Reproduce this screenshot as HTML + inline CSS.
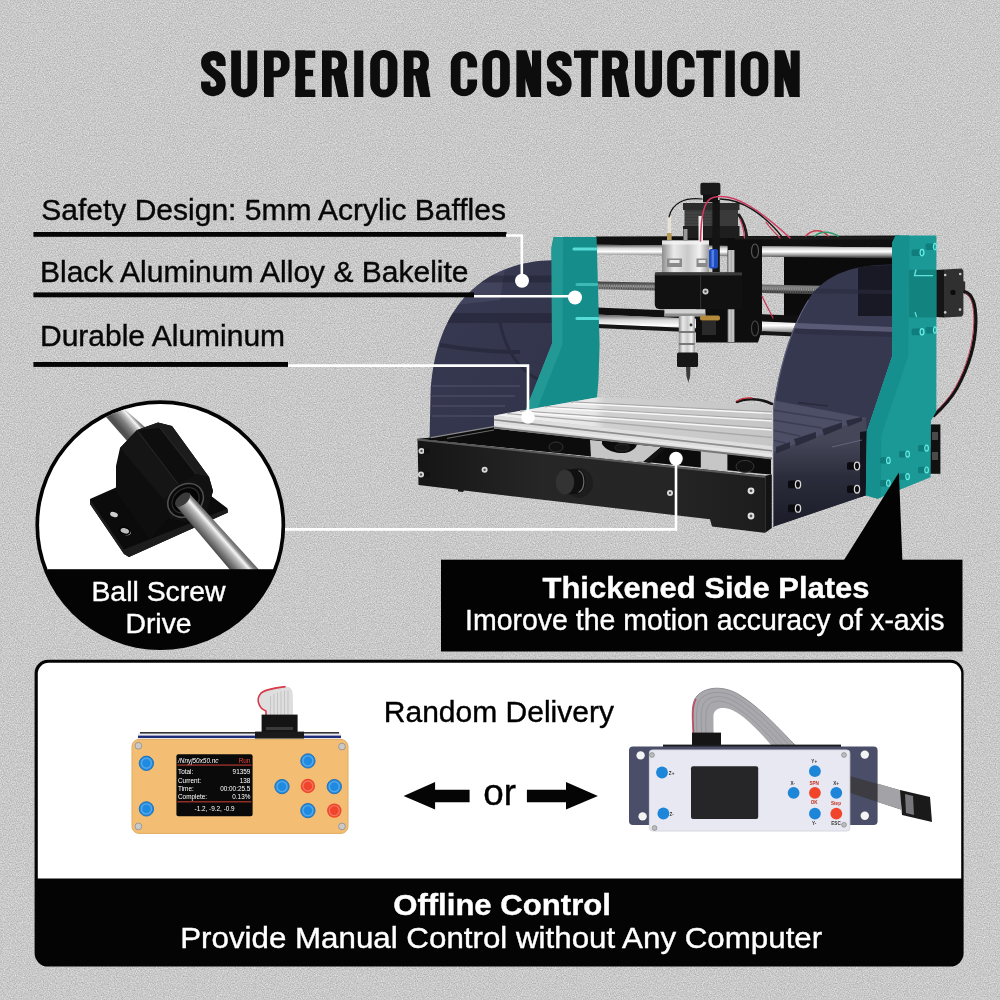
<!DOCTYPE html>
<html><head><meta charset="utf-8"><title>Superior Construction</title>
<style>
html,body{margin:0;padding:0;background:#c8c8c8;}
body{width:1000px;height:1000px;overflow:hidden;font-family:"Liberation Sans",sans-serif;}
svg{display:block;position:absolute;left:0;top:0}
text{font-family:"Liberation Sans",sans-serif;}
</style></head><body>
<svg width="1000" height="1000" viewBox="0 0 1000 1000" style="opacity:0.999">
<defs>
<filter id="noise" x="0" y="0" width="100%" height="100%" color-interpolation-filters="sRGB">
<feTurbulence type="fractalNoise" baseFrequency="0.85" numOctaves="2" seed="7" result="n"/>
<feColorMatrix type="matrix" values="0.3 0 0 0 0.636  0.3 0 0 0 0.636  0.3 0 0 0 0.636  0 0 0 0 1"/>
</filter>
</defs>
<rect width="1000" height="1000" fill="#c8c8c8"/>
<rect width="1000" height="1000" filter="url(#noise)"/>
<g id="title" fill="#0d0d0d">
<path d="M221.0,66.0 V61.9 C221.0,53.4 205.7,53.4 205.7,62.4 C205.7,72.5 221.0,73.0 221.0,83.8 C221.0,93.8 205.7,93.8 205.7,85.3 V81.5" fill="none" stroke="#0d0d0d" stroke-width="9.3"/>
<path d="M231.2,50.5 V84.4 A13.0,13.0 0 0 0 257.2,84.4 V50.5 H247.5 V85.9 A3.3,3.3 0 0 1 240.9,85.9 V50.5 Z"/>
<path d="M264.0,50.5 H278.6 A11.0,11.0 0 0 1 289.6,61.5 V66.2 A11.0,11.0 0 0 1 278.6,77.2 H273.7 V97.0 H264.0 Z M273.7,57.5 V70.8 H276.3 A4.6,4.6 0 0 0 280.9,66.2 V62.1 A4.6,4.6 0 0 0 276.3,57.5 Z" fill-rule="evenodd"/>
<rect x="295.5" y="50.5" width="9.7" height="46.5"/>
<rect x="295.5" y="50.5" width="19.8" height="7.4"/>
<rect x="295.5" y="69.8" width="17.6" height="6.4"/>
<rect x="295.5" y="89.6" width="19.8" height="7.4"/>
<path d="M322.0,50.5 H336.0 A11.0,11.0 0 0 1 347.0,61.5 V64.5 A11.0,11.0 0 0 1 336.0,75.5 H331.7 V97.0 H322.0 Z M331.7,57.5 V69.1 H333.7 A4.6,4.6 0 0 0 338.3,64.5 V62.1 A4.6,4.6 0 0 0 333.7,57.5 Z" fill-rule="evenodd"/>
<polygon points="332.7,72.5 344.0,69.5 348.6,97.0 338.3,97.0"/>
<rect x="354.2" y="50.5" width="9.1" height="46.5"/>
<path d="M370.2,63.6 A13.6,13.6 0 0 1 397.4,63.6 V83.8 A13.6,13.6 0 0 1 370.2,83.8 Z M379.9,61.7 V85.7 A3.9,3.9 0 0 0 387.7,85.7 V61.7 A3.9,3.9 0 0 0 379.9,61.7 Z" fill-rule="evenodd"/>
<path d="M403.8,50.5 H417.9 A11.0,11.0 0 0 1 428.9,61.5 V64.5 A11.0,11.0 0 0 1 417.9,75.5 H413.5 V97.0 H403.8 Z M413.5,57.5 V69.1 H415.6 A4.6,4.6 0 0 0 420.2,64.5 V62.1 A4.6,4.6 0 0 0 415.6,57.5 Z" fill-rule="evenodd"/>
<polygon points="414.5,72.5 425.9,69.5 430.5,97.0 420.2,97.0"/>
<path d="M450.8,63.2 A13.2,13.2 0 0 1 477.1,63.2 V67.5 H467.4 V61.2 A3.5,3.5 0 0 0 460.5,61.2 V86.2 A3.5,3.5 0 0 0 467.4,86.2 V79.5 H477.1 V84.2 A13.2,13.2 0 0 1 450.8,84.2 Z"/>
<path d="M482.4,63.7 A13.7,13.7 0 0 1 509.8,63.7 V83.7 A13.7,13.7 0 0 1 482.4,83.7 Z M492.1,61.8 V85.6 A4.0,4.0 0 0 0 500.1,85.6 V61.8 A4.0,4.0 0 0 0 492.1,61.8 Z" fill-rule="evenodd"/>
<rect x="516.4" y="50.5" width="9.1" height="46.5"/>
<rect x="532.0" y="50.5" width="9.1" height="46.5"/>
<polygon points="516.4,50.5 526.6,50.5 541.1,97.0 530.9,97.0"/>
<path d="M567.0,66.0 V61.9 C567.0,53.4 551.5,53.4 551.5,62.4 C551.5,72.5 567.0,73.0 567.0,83.8 C567.0,93.8 551.5,93.8 551.5,85.3 V81.5" fill="none" stroke="#0d0d0d" stroke-width="9.3"/>
<rect x="574.0" y="50.5" width="24.2" height="7.4"/>
<rect x="581.2" y="50.5" width="9.7" height="46.5"/>
<path d="M602.2,50.5 H617.0 A11.0,11.0 0 0 1 628.0,61.5 V64.5 A11.0,11.0 0 0 1 617.0,75.5 H611.9 V97.0 H602.2 Z M611.9,57.5 V69.1 H614.7 A4.6,4.6 0 0 0 619.3,64.5 V62.1 A4.6,4.6 0 0 0 614.7,57.5 Z" fill-rule="evenodd"/>
<polygon points="612.9,72.5 625.0,69.5 629.6,97.0 619.3,97.0"/>
<path d="M635.0,50.5 V83.9 A13.5,13.5 0 0 0 662.0,83.9 V50.5 H652.3 V85.4 A3.8,3.8 0 0 1 644.7,85.4 V50.5 Z"/>
<path d="M667.2,63.7 A13.7,13.7 0 0 1 694.6,63.7 V67.5 H684.9 V61.8 A4.0,4.0 0 0 0 676.9,61.8 V85.6 A4.0,4.0 0 0 0 684.9,85.6 V79.5 H694.6 V83.7 A13.7,13.7 0 0 1 667.2,83.7 Z"/>
<rect x="696.2" y="50.5" width="24.8" height="7.4"/>
<rect x="703.8" y="50.5" width="9.7" height="46.5"/>
<rect x="725.5" y="50.5" width="9.3" height="46.5"/>
<path d="M740.8,63.8 A13.8,13.8 0 0 1 768.3,63.8 V83.7 A13.8,13.8 0 0 1 740.8,83.7 Z M750.5,61.8 V85.6 A4.1,4.1 0 0 0 758.6,85.6 V61.8 A4.1,4.1 0 0 0 750.5,61.8 Z" fill-rule="evenodd"/>
<rect x="774.6" y="50.5" width="9.1" height="46.5"/>
<rect x="790.6" y="50.5" width="9.1" height="46.5"/>
<polygon points="774.6,50.5 784.8,50.5 799.7,97.0 789.5,97.0"/>
</g>
<g id="machine">
<defs>
<linearGradient id="rod" x1="0" y1="0" x2="0" y2="1">
<stop offset="0" stop-color="#555"/><stop offset="0.25" stop-color="#d8d8d8"/><stop offset="0.5" stop-color="#fff"/><stop offset="0.78" stop-color="#8a8a8a"/><stop offset="1" stop-color="#222"/>
</linearGradient>
<linearGradient id="screw" x1="0" y1="0" x2="0" y2="1">
<stop offset="0" stop-color="#3a3a3a"/><stop offset="0.4" stop-color="#858585"/><stop offset="1" stop-color="#2e2e2e"/>
</linearGradient>
<linearGradient id="silverV" x1="0" y1="0" x2="1" y2="0">
<stop offset="0" stop-color="#8d8d8d"/><stop offset="0.25" stop-color="#e9e9e9"/><stop offset="0.55" stop-color="#c9c9c9"/><stop offset="0.8" stop-color="#f2f2f2"/><stop offset="1" stop-color="#9a9a9a"/>
</linearGradient>
<linearGradient id="bedtop" x1="0" y1="0" x2="0" y2="1">
<stop offset="0" stop-color="#cfcfcf"/><stop offset="1" stop-color="#e9e9e9"/>
</linearGradient>
<linearGradient id="baffL" x1="0" y1="0" x2="1" y2="1">
<stop offset="0" stop-color="#383a53"/><stop offset="1" stop-color="#31334a"/>
</linearGradient>
<linearGradient id="baffR" x1="0" y1="0" x2="0" y2="1">
<stop offset="0" stop-color="#34364e"/><stop offset="0.45" stop-color="#4a4c63"/><stop offset="1" stop-color="#3c3e55"/>
</linearGradient>
</defs>

<!-- left acrylic baffle (behind) -->
<clipPath id="baffLc"><path d="M552,260.3 C505,261 436,285 430.5,395 L429.6,437.8 L494,426.6 L494,416 L526,410 L552,344 Z"/></clipPath>
<path d="M552,260.3 C505,261 436,285 430.5,395 L429.6,437.8 L494,426.6 L494,416 L526,410 L552,344 Z" fill="url(#baffL)"/>
<!-- things seen through left baffle -->
<g clip-path="url(#baffLc)">
<polygon points="470,275 505,268 500,300 455,305" fill="#5a5c76" opacity="0.35"/>
<g stroke="#50526b" stroke-width="2" opacity="0.55" fill="none"><path d="M432,386 H520"/><path d="M432,396 H515"/><path d="M432,406 H505"/><path d="M432,416 H494"/></g>
</g>
<g opacity="0.4" stroke="#1a1b2a" fill="none" clip-path="url(#baffLc)">
<path d="M470,279 H552" stroke-width="7"/>
<path d="M445,318 H552" stroke-width="10"/>
<path d="M440,345 C470,350 500,352 520,352" stroke-width="4"/>
<path d="M500,322 C505,350 520,372 540,380" stroke-width="3"/>
</g>

<!-- gantry back plate (electronics) -->
<rect x="784" y="256" width="108" height="60" fill="#0b0b0b"/>

<!-- top rail -->
<polygon points="596,236.4 900,235.6 900,247.5 596,244.8" fill="#101010"/>
<!-- upper rod -->
<polygon points="596,244.8 900,247.5 900,258.5 596,254.4" fill="url(#rod)"/>
<!-- lead screw -->
<polygon points="596,281.4 900,287.2 900,296 596,289.2" fill="url(#screw)"/>
<path d="M597,285.4 L900,291.6" stroke="#bdbdbd" stroke-width="2.4" stroke-dasharray="1 1.4" fill="none" opacity="0.55"/>
<path d="M597,287.6 L900,294" stroke="#1a1a1a" stroke-width="2" stroke-dasharray="1 1.4" fill="none" opacity="0.5"/>
<!-- lower rail + rod -->
<polygon points="596,307.6 900,319.7 900,328 596,314.6" fill="#101010"/>
<polygon points="596,314.4 900,327.3 900,336.9 596,324" fill="url(#rod)"/>
<polygon points="596,324 900,336.9 900,341 596,328" fill="#151515"/>

<!-- left teal plate -->
<polygon points="553.6,237 596.6,237 599.6,345 598.5,380 597,397.5 525.5,410.2 552,344 551.5,247.5" fill="#158d8a"/>
<polygon points="553.6,237 563,237 562.4,345 537.5,408 525.5,410.2 552,344 551.5,247.5" fill="#239996"/>
<!-- rod reflections on teal -->
<g stroke-linecap="round" fill="none">
<path d="M574,249 H596" stroke="#57dcd8" stroke-width="3.2"/>
<path d="M577,284.5 H597" stroke="#3fb9b5" stroke-width="3"/>
<path d="M577,318.5 H598" stroke="#57dcd8" stroke-width="3.2"/>
</g>

<!-- Z carriage (black) -->
<polygon points="727.6,237 762,237 762,330 758,342.5 696,342.5 696,309 727.6,309" fill="#0e0e0e"/>
<rect x="727.6" y="250" width="7" height="92" fill="url(#silverV)" opacity="0.85"/>
<rect x="735" y="236.5" width="165" height="3" fill="#1b1b1b"/>
<!-- rod entering carriage rings -->
<ellipse cx="755" cy="251" rx="3.5" ry="7" fill="none" stroke="#555" stroke-width="1.2"/>
<ellipse cx="755" cy="328.4" rx="3.5" ry="7.5" fill="none" stroke="#444" stroke-width="1.2"/>
<!-- Z stepper motor -->
<rect x="683" y="203" width="56.5" height="7" fill="#2c2c2c"/>
<rect x="684.5" y="210" width="53.5" height="18" fill="#3a3a3a"/>
<g stroke="#5a5a5a" stroke-width="0.7" opacity="0.8"><path d="M685,213 H711 M685,216 H711 M685,219 H711 M685,222 H711 M685,225 H711"/></g>
<rect x="683" y="226" width="56.5" height="12" fill="#1e1e1e"/>
<!-- post + knob -->
<rect x="712.4" y="200" width="7.4" height="72" fill="#141414"/>
<rect x="700.4" y="182.8" width="20" height="12.4" rx="2" fill="#1a1a1a"/>
<rect x="703" y="194.8" width="15" height="7.5" fill="#101010"/>
<!-- blue capacitor -->
<rect x="709" y="249" width="9" height="19.5" rx="2" fill="#1f4dbd"/>
<rect x="711.5" y="250" width="2.5" height="17" fill="#5e8cf0" opacity="0.8"/>
<!-- silver spindle motor -->
<rect x="662" y="240.5" width="47" height="32.5" fill="url(#silverV)"/>
<rect x="662" y="240.5" width="47" height="4" fill="#f4f4f4" opacity="0.8"/>
<rect x="667" y="258.5" width="15" height="8.5" fill="#8a8a8a"/><rect x="669.5" y="260" width="10" height="3" fill="#e8e8e8"/>
<rect x="696.5" y="258.5" width="11" height="8.5" fill="#8a8a8a"/><rect x="698.5" y="260" width="7" height="3" fill="#e8e8e8"/>
<rect x="683.5" y="229" width="4" height="12" fill="#999"/>
<!-- connectors on motor -->
<rect x="667.5" y="216" width="3.6" height="24" fill="#e6e2d6"/><rect x="667" y="233" width="4.6" height="7" fill="#b59a55"/>
<rect x="698.5" y="216" width="4.5" height="25" fill="#ececec"/>
<!-- spindle clamp -->
<path d="M654.8,274 Q654.8,272.4 657,272.4 H742 V309.2 H660 Q654.8,309.2 654.8,304 Z" fill="#111"/>
<rect x="655" y="272.4" width="87" height="3" fill="#3a3a3a"/>
<rect x="700" y="275" width="1.2" height="34" fill="#2e2e2e"/>
<circle cx="705.5" cy="291.5" r="3" fill="#cfcfcf"/><circle cx="705.5" cy="291.5" r="1.3" fill="#555"/>
<!-- flange, collet -->
<rect x="664.4" y="309.2" width="41" height="7" fill="#d0d0d0"/><rect x="664.4" y="313.5" width="41" height="3" fill="#8f8f8f"/>
<rect x="678.8" y="316" width="16" height="37.5" fill="url(#silverV)"/>
<rect x="678.8" y="331" width="16" height="2" fill="#777"/><rect x="678.8" y="343" width="16" height="2" fill="#777"/>
<circle cx="691" cy="325" r="1.4" fill="#333"/>
<rect x="677" y="352.4" width="21" height="14.6" rx="1.5" fill="#171717"/>
<polygon points="686,367 690.4,367 690.2,376 688.4,382.5 686.4,376" fill="#3c3c3c"/>
<!-- brass nut -->
<rect x="700" y="315.6" width="20" height="5" rx="2" fill="#b48a3c"/>
<rect x="702" y="321" width="14" height="14" fill="#2a2a2a"/>
<!-- wires -->
<g fill="none" stroke-linecap="round">
<path d="M702,199 C685,197 672,203 669,217" stroke="#111" stroke-width="1.2"/>
<path d="M700.5,241 C701,215 704,200 713,197.5 C735,192 762,212 790,238" stroke="#d23a62" stroke-width="1.5"/>
<path d="M720,199 C742,199 765,215 783,238" stroke="#151515" stroke-width="1.4"/>
<path d="M739,215 C744,222 746,230 747,238" stroke="#1d1d1d" stroke-width="3"/>
<path d="M740,219 C743,226 744,232 744.5,238" stroke="#d23a62" stroke-width="1.2"/>
<path d="M762,296 C766,305 770,312 773,318" stroke="#c93558" stroke-width="1.2"/>
<path d="M806,236 C812,229 822,229 828,236" stroke="#c83a4a" stroke-width="1.6"/>
<path d="M815,236 C820,231 830,231 838,236" stroke="#2f9a6a" stroke-width="1.6"/>
<path d="M766,222 C770,228 776,234 780,238" stroke="#c83a4a" stroke-width="1.3"/>
</g>

<!-- wire on bed back -->
<g fill="none" stroke-linecap="round">
<path d="M737,402 C745,398 760,398 772,404" stroke="#151515" stroke-width="2.6"/>
<path d="M737,401 C742,398 748,397.6 752,398" stroke="#c8323c" stroke-width="1.4"/>
</g>
<!-- base: far/back & inner dark parts -->
<polygon points="431,437.6 494,426.6 771,458 771,474.6 417.5,438.8" fill="#0c0c0c"/>
<path d="M431,437.6 L494,426.6" stroke="#8a8a8a" stroke-width="1.2" fill="none"/>
<path d="M447,438.4 L494,430" stroke="#6a6a6a" stroke-width="1" fill="none"/>
<!-- gaps showing background under bed -->
<polygon points="590,440 661,447 644,462 591,457" fill="#c6c6c6"/>
<polygon points="700.8,450 727.4,453 727.4,471 700.8,468" fill="#c6c6c6"/>
<!-- black parts under bed -->
<path d="M602,440 L637,444 C636,450 628,453.6 620,453 C612,452.4 605,449 602,444 Z" fill="#0d0d0d"/>
<polygon points="643,462 661,447 666,447.6 650,463" fill="#141414"/>
<ellipse cx="556" cy="447" rx="7" ry="5" fill="#101010" stroke="#333" stroke-width="1"/>
<ellipse cx="622" cy="447.6" rx="7" ry="3.6" fill="#151515" stroke="#2f2f2f" stroke-width="0.8"/>
<ellipse cx="745" cy="466.4" rx="9" ry="6" fill="#101010" stroke="#3a3a3a" stroke-width="1"/>
<!-- aluminium bed -->
<linearGradient id="bedh" x1="494" y1="0" x2="772" y2="0" gradientUnits="userSpaceOnUse">
<stop offset="0" stop-color="#f2f2f2"/><stop offset="0.36" stop-color="#e6e6e6"/><stop offset="0.4" stop-color="#cfcfcf"/><stop offset="1" stop-color="#c6c6c6"/>
</linearGradient>
<polygon points="494,415.4 598,397.2 772,405 772,446.2" fill="url(#bedh)"/>
<g stroke="#a9a9a9" stroke-width="1.3" fill="none">
<path d="M520,411 L772,428.5"/><path d="M545,406.6 L772,419.5"/><path d="M571,402 L772,412"/><path d="M507,413.5 L772,437.5"/>
</g>
<g stroke="#ffffff" stroke-width="1.4" fill="none" opacity="0.85">
<path d="M522,412.2 L772,430"/><path d="M547,407.8 L772,421"/><path d="M573,403.2 L772,413.4"/>
</g>
<polygon points="494,415.4 772,446.2 772,459 494,428.4" fill="#dedede"/>
<polygon points="494,419 772,450 772,451.6 494,420.6" fill="#8f8f8f"/>
<polygon points="494,423.5 772,454.5 772,456 494,425" fill="#e9e9e9"/>
<polygon points="494,426.6 772,457.5 772,459.4 494,428.6" fill="#777"/>
<!-- base front face -->
<linearGradient id="basef" x1="417" y1="0" x2="772" y2="0" gradientUnits="userSpaceOnUse">
<stop offset="0" stop-color="#151515"/><stop offset="0.35" stop-color="#262626"/><stop offset="0.7" stop-color="#252525"/><stop offset="1" stop-color="#1c1c1c"/>
</linearGradient>
<polygon points="417.5,438.8 765.2,475.8 765.2,532.8 712,526.4 710,519.2 464,490.6 463,492 458,491.4 458,489.8 418.5,485" fill="url(#basef)"/>
<polygon points="765.2,475.8 771.8,474.6 771.8,528 765.2,532.8" fill="#131313"/>
<polygon points="417.5,438.8 765.2,475.8 765.2,477.8 417.5,440.6" fill="#5a5a5a"/>
<!-- knob -->
<ellipse cx="579" cy="483" rx="14" ry="15" fill="#1a1a1a" opacity="0.7"/>
<path d="M566,469.6 L577,469 A8.5,12.4 0 0 1 577,493.8 L566,494.4 Z" fill="#101010"/>
<path d="M578.5,470.5 A7.5,11.5 0 0 1 578.5,492.5" fill="none" stroke="#6a6a6a" stroke-width="1.2"/>
<ellipse cx="565" cy="482.2" rx="9.2" ry="12.4" fill="#333"/>
<!-- screws on front face -->
<g>
<circle cx="421.5" cy="451" r="3" fill="#d9d9d9"/><circle cx="421.5" cy="451" r="1.2" fill="#555"/><rect x="424" y="448.5" width="6" height="5.4" fill="#111"/>
<circle cx="421" cy="474.5" r="3" fill="#d9d9d9"/><circle cx="421" cy="474.5" r="1.2" fill="#555"/><rect x="424" y="472" width="6" height="5.4" fill="#111"/>
<circle cx="484.6" cy="469.8" r="3" fill="#d9d9d9"/><circle cx="484.6" cy="469.8" r="1.2" fill="#555"/>
<circle cx="670" cy="493" r="3" fill="#d9d9d9"/><circle cx="670" cy="493" r="1.2" fill="#555"/>
<circle cx="751" cy="490.8" r="3.4" fill="#e0e0e0"/><circle cx="751" cy="490.8" r="1.4" fill="#555"/>
<circle cx="751" cy="516" r="3.4" fill="#e0e0e0"/><circle cx="751" cy="516" r="1.4" fill="#555"/>
</g>

<!-- right acrylic baffle -->
<clipPath id="baffRc"><path d="M892,264.4 C856,264.8 826,272 808,300 C790,328 778,372 773,410 L773,526.8 L866,495.2 L867,431.6 L892.4,356 Z"/></clipPath>
<path d="M892,264.4 C856,264.8 826,272 808,300 C790,328 778,372 773,410 L773,526.8 L866,495.2 L867,431.6 L892.4,356 Z" fill="#363850"/>
<g clip-path="url(#baffRc)">
<!-- back plate seen through -->
<polygon points="858,266 892,265 892,316 858,316" fill="#15161f" opacity="0.9"/>
<!-- bright band where rods are -->
<polygon points="770,322 892,327 892,332 770,327.6" fill="#5d5f7a" opacity="0.9"/>
<polygon points="770,327.6 892,332 892,337 770,333" fill="#2c2d42" opacity="0.7"/>
<polygon points="770,288 892,290 892,294 770,293" fill="#2a2b3d" opacity="0.6"/>
<!-- base side seen through -->
<linearGradient id="sideR" x1="0" y1="440" x2="0" y2="520" gradientUnits="userSpaceOnUse">
<stop offset="0" stop-color="#454759"/><stop offset="0.45" stop-color="#2c2d3c"/><stop offset="1" stop-color="#1d1e2a"/>
</linearGradient>
<polygon points="772,450 866,417 868,496 772,528" fill="url(#sideR)"/>
<!-- bed seen through (triangle, with slot marks along the end) -->
<polygon points="772,400 866,418 772,452.6" fill="#4d4f66"/>
<g stroke="#3b3d52" stroke-width="1.6" fill="none" opacity="0.9">
<path d="M772,410 L842,421"/><path d="M772,420 L822,428"/><path d="M772,430 L800,436"/><path d="M772,440 L786,443"/>
</g>
<g fill="#2a2b3c" opacity="0.95">
<polygon points="846,420.5 862,417 862,421 848,426.5"/>
<polygon points="822,429 842,422.6 842,428 824,435.5"/>
<polygon points="794,439 816,432 816,438 796,446"/>
<polygon points="776,447 790,442 790,448 776,453.6"/>
</g>
<path d="M798,402.6 L828,406" stroke="#2a2b3c" stroke-width="1.6" fill="none"/>
<polygon points="860,432 867.4,431 866.4,496 860,498" fill="#14141f"/>
<path d="M832,447 L862,440" stroke="#6b6d86" stroke-width="1" fill="none" opacity="0.8"/>
<!-- reflections -->
<path d="M808,300 C790,328 778,372 773,410 L773,526" fill="none" stroke="#6a6c88" stroke-width="2" opacity="0.8"/>
</g>
<!-- screws on baffle -->
<g>
<rect x="788" y="480.6" width="9" height="7.6" rx="1.5" fill="#0b0b0f"/><ellipse cx="798" cy="484.4" rx="2.6" ry="3.8" fill="#0b0b0f" stroke="#d8d8d8" stroke-width="1.3"/>
<rect x="788" y="504.6" width="9" height="7.6" rx="1.5" fill="#0b0b0f"/><ellipse cx="798" cy="508.4" rx="2.6" ry="3.8" fill="#0b0b0f" stroke="#d8d8d8" stroke-width="1.3"/>
<rect x="847" y="462.2" width="9" height="7.6" rx="1.5" fill="#0b0b0f"/><ellipse cx="857" cy="466" rx="2.6" ry="3.8" fill="#0b0b0f" stroke="#d8d8d8" stroke-width="1.3"/>
<rect x="847" y="485.4" width="9" height="7.6" rx="1.5" fill="#0b0b0f"/><ellipse cx="857" cy="489.2" rx="2.6" ry="3.8" fill="#0b0b0f" stroke="#d8d8d8" stroke-width="1.3"/>
</g>
<!-- block behind right plate bottom -->
<rect x="930" y="424.4" width="10.4" height="49.4" fill="#111"/>
<rect x="932" y="432" width="6" height="8" fill="#4a4a4a"/><rect x="932" y="452" width="6" height="8" fill="#4a4a4a"/>
<!-- right stepper -->
<polygon points="936,270 944,269.4 944,317.6 936,317" fill="#151515"/>
<polygon points="944,269.6 962,268.4 963.4,271 963.4,281 965.2,282 965.2,292.4 963.4,293 963.4,314 962,316.4 944,317.6" fill="#303030"/>
<circle cx="953" cy="292.4" r="2.6" fill="#0c0c0c"/>
<circle cx="945.2" cy="275" r="1.3" fill="#c9c9c9"/><circle cx="960.2" cy="274" r="1.3" fill="#c9c9c9"/><circle cx="945.2" cy="312.4" r="1.3" fill="#c9c9c9"/><circle cx="960" cy="309.6" r="1.3" fill="#c9c9c9"/>
<!-- cable -->
<g fill="none" stroke-linecap="round">
<path d="M965,292 C972,294 976,302 975.8,322 C975.4,345 968,368 957,388 C949,402 940,410 934,415.4" stroke="#141414" stroke-width="3.4"/>
<path d="M965.6,293.6 C971,296 974,304 973.8,322 C973.4,344 966.4,367 955.6,387 C948,400 939,408.6 933.4,413.6" stroke="#b8324a" stroke-width="0.9"/>
</g>
<!-- right teal plate -->
<polygon points="895.6,235.6 936.4,235.6 936.4,411.2 931,420.8 930.6,477.2 877.6,498.8 865.8,495.2 866.8,431.6 892.2,356 892,243" fill="#1b9996"/>
<polygon points="895.6,235.6 909.4,235.6 908.2,356 881.4,435.2 880.8,497.6 877.6,498.8 865.8,495.2 866.8,431.6 892.2,356 892,243" fill="#15908e"/>
<!-- motor seen through plate -->
<rect x="909" y="269.8" width="27.4" height="47.6" fill="#127f7d" opacity="0.85"/>
<path d="M916,269.5 L914.6,275.6 H933" fill="none" stroke="#5fe3dc" stroke-width="1.4"/>
<path d="M915,312 L916.6,317" fill="none" stroke="#5fe3dc" stroke-width="1.2"/>
<!-- teal screws -->
<g>
<rect x="911.6" y="249.4" width="10" height="6.6" rx="1.5" fill="#0f7d7b"/><ellipse cx="922" cy="252.6" rx="1.9" ry="3.2" fill="none" stroke="#66ece4" stroke-width="1.3"/>
<rect x="925.6" y="243.4" width="9" height="6.6" rx="1.5" fill="#0f7d7b"/><ellipse cx="935" cy="246.6" rx="1.5" ry="3.2" fill="none" stroke="#66ece4" stroke-width="1.3"/>
<rect x="911.6" y="328.6" width="10" height="6.6" rx="1.5" fill="#0f7d7b"/><ellipse cx="922" cy="331.8" rx="1.9" ry="3.2" fill="none" stroke="#66ece4" stroke-width="1.3"/>
<rect x="925.6" y="327" width="9" height="6.6" rx="1.5" fill="#0f7d7b"/><ellipse cx="935" cy="330" rx="1.5" ry="3.2" fill="none" stroke="#66ece4" stroke-width="1.3"/>
<rect x="880" y="457.2" width="8" height="6.4" rx="1.5" fill="#0f7d7b"/><ellipse cx="888.4" cy="460.4" rx="1.8" ry="3" fill="none" stroke="#66ece4" stroke-width="1.2"/>
<rect x="899" y="451" width="8" height="6.4" rx="1.5" fill="#0f7d7b"/><ellipse cx="907.6" cy="454.2" rx="1.8" ry="3" fill="none" stroke="#66ece4" stroke-width="1.2"/>
<rect x="918" y="445" width="8" height="6.4" rx="1.5" fill="#0f7d7b"/><ellipse cx="926.6" cy="448.2" rx="1.8" ry="3" fill="none" stroke="#66ece4" stroke-width="1.2"/>
<rect x="880" y="480" width="8" height="6.4" rx="1.5" fill="#0f7d7b"/><ellipse cx="888.4" cy="483.2" rx="1.8" ry="3" fill="none" stroke="#66ece4" stroke-width="1.2"/>
<rect x="899" y="473.4" width="8" height="6.4" rx="1.5" fill="#0f7d7b"/><ellipse cx="907.6" cy="476.6" rx="1.8" ry="3" fill="none" stroke="#66ece4" stroke-width="1.2"/>
<rect x="918" y="466.8" width="8" height="6.4" rx="1.5" fill="#0f7d7b"/><ellipse cx="926.6" cy="470" rx="1.8" ry="3" fill="none" stroke="#66ece4" stroke-width="1.2"/>
</g>
</g>
<g id="labels" fill="#080808" font-size="30">
<text x="41.3" y="219.5" stroke="#080808" stroke-width="0.4">Safety Design: 5mm Acrylic Baffles</text>
<text x="40" y="282.3" stroke="#080808" stroke-width="0.4">Black Aluminum Alloy &amp; Bakelite</text>
<text x="40" y="346.3" stroke="#080808" stroke-width="0.4">Durable Aluminum</text>
<rect x="33.4" y="232" width="473.1" height="4.8" fill="#050505"/>
<rect x="33.4" y="292.4" width="440.6" height="4.9" fill="#050505"/>
<rect x="33.4" y="362" width="254.6" height="4.9" fill="#050505"/>
</g>
<g id="ballscrew">
<defs>
<clipPath id="cc"><circle cx="160.3" cy="525.2" r="121.2"/></clipPath>
<linearGradient id="rodA" x1="112" y1="418" x2="128" y2="404" gradientUnits="userSpaceOnUse">
<stop offset="0" stop-color="#505050"/><stop offset="0.3" stop-color="#808080"/><stop offset="0.52" stop-color="#bdbdbd"/><stop offset="0.66" stop-color="#f6f6f6"/><stop offset="0.8" stop-color="#858585"/><stop offset="1" stop-color="#565656"/>
</linearGradient>
<linearGradient id="rodB" x1="203" y1="539" x2="220" y2="524" gradientUnits="userSpaceOnUse">
<stop offset="0" stop-color="#484848"/><stop offset="0.25" stop-color="#7c7c7c"/><stop offset="0.5" stop-color="#b8b8b8"/><stop offset="0.66" stop-color="#f6f6f6"/><stop offset="0.8" stop-color="#888888"/><stop offset="1" stop-color="#525252"/>
</linearGradient>
</defs>
<circle cx="160.3" cy="525.2" r="124.9" fill="#040404"/>
<g clip-path="url(#cc)">
<rect x="30" y="395" width="260" height="175" fill="#fff"/>
<!-- upper rod -->
<polygon points="99,409 114,400 146,428 128,442" fill="url(#rodA)"/>
<!-- base plate -->
<polygon points="90,499 116,487.6 190,480 227,508 228,512.4 129,557 124,554 90,504" fill="#0b0b0b"/>
<polygon points="90,499.6 124,549.6 227.6,508.6 228,512.4 129,557 124,554 90,504" fill="#1d1d1d"/>
<ellipse cx="114" cy="514.6" rx="4" ry="2.4" fill="#cfcfcf" transform="rotate(20 114 514.6)"/>
<ellipse cx="125.6" cy="531.6" rx="5.4" ry="3.4" fill="#bdbdbd" transform="rotate(20 125.6 531.6)"/>
<ellipse cx="124.6" cy="530.6" rx="5.4" ry="3.4" fill="none" stroke="#050505" stroke-width="1.6" transform="rotate(20 124.6 530.6)"/>
<!-- block body -->
<polygon points="116,466 120,448 137,430 158,422.4 172,426 209,477 213,491 207,512 186,522 168,518 150,540 116,492" fill="#0e0e0e"/>
<polygon points="137,430 158,422.4 172,426 209,477 196,474 160,428" fill="#1c1c1c"/>
<polygon points="120,448 137,430 178,484 164,500" fill="#151515"/>
<path d="M137,430 L178,484 M160,428 L196,474" stroke="#2b2b2b" stroke-width="1" fill="none"/>
<!-- front face with bearing -->
<polygon points="164,500 178,484 196,474 209,477 213,491 207,512 190,522 170,519" fill="#111"/>
<ellipse cx="185.6" cy="500.4" rx="19" ry="15.6" fill="#0a0a0a" stroke="#4f4f4f" stroke-width="1.6" transform="rotate(-38 185.6 500.4)"/>
<ellipse cx="185.6" cy="500.4" rx="14.6" ry="11.6" fill="#050505" stroke="#2c2c2c" stroke-width="1.2" transform="rotate(-38 185.6 500.4)"/>
<!-- lower rod -->
<polygon points="176,506 189,493 262,573 236,577" fill="url(#rodB)"/>
<ellipse cx="182.6" cy="499.6" rx="9.2" ry="5" fill="#3a3a3a" transform="rotate(-42 182.6 499.6)"/>
<rect x="30" y="569.2" width="260" height="90" fill="#040404"/>
</g>
<text x="158.5" y="601.2" font-size="28.4" fill="#fff" text-anchor="middle" stroke="#fff" stroke-width="0.4">Ball Screw</text>
<text x="158.5" y="633.2" font-size="28.4" fill="#fff" text-anchor="middle" stroke="#fff" stroke-width="0.4">Drive</text>
</g>
<g id="connectors" fill="none" stroke="#fff" stroke-width="2.6">
<path d="M506,235.5 H521.8 V280"/>
<path d="M474,296.2 H570"/>
<path d="M288,365.6 H528 V416"/>
<path d="M676,459 V529.4 H285"/>
</g>
<g fill="#fff">
<circle cx="522" cy="280.8" r="7"/>
<circle cx="575" cy="297.5" r="7"/>
<circle cx="528" cy="417" r="6.8"/>
<circle cx="676" cy="458.6" r="6.8"/>
</g>
<g id="callout">
<polygon points="898.9,472.4 843.4,561 902.4,561" fill="#030303"/>
<rect x="441" y="559.7" width="521.5" height="91.8" fill="#030303"/>
<text x="542.5" y="598.3" font-size="30.2" font-weight="700" fill="#fff" textLength="327" lengthAdjust="spacingAndGlyphs" stroke="#fff" stroke-width="0.4">Thickened Side Plates</text>
<text x="465" y="630.4" font-size="30.2" fill="#fff" textLength="479.5" lengthAdjust="spacingAndGlyphs" stroke="#fff" stroke-width="0.4">Imorove the motion accuracy of x-axis</text>
</g>
<g id="panel">
<rect x="34.6" y="659.8" width="929" height="306.8" rx="13.5" fill="#040404"/>
<path d="M37.8,673.7 a11,11 0 0 1 11,-11 H950.2 a11,11 0 0 1 11,11 V878.6 H37.8 Z" fill="#fff"/>

<!-- left controller -->
<g id="ctrlL">
<defs>
<linearGradient id="ribL" x1="0" y1="0" x2="1" y2="0"><stop offset="0" stop-color="#d9404a"/><stop offset="0.12" stop-color="#d9404a"/><stop offset="0.13" stop-color="#e9e9e9"/><stop offset="1" stop-color="#d4d4d4"/></linearGradient>
</defs>
<path d="M266.5,722 L265.9,711 C258,708 256.5,699 260,694.5 C262,690.5 270,688.6 285.6,686.6 C291,686.4 292.6,690 292.8,696 L293.3,722 Z" fill="#dedede"/>
<path d="M266.5,722 L265.9,711 C258,708 256.5,699 260,694.5 C262,690.5 270,688.6 285.6,686.6" fill="none" stroke="#d63c4a" stroke-width="1.6"/>
<g stroke="#b9b9b9" stroke-width="0.7" fill="none">
<path d="M270.5,722 V696 M274,722 V694 M277.5,722 V692.6 M281,722 V691.4 M284.5,722 V690.6 M288,722 V690.4"/>
</g>
<rect x="261.6" y="714.6" width="36" height="19.6" fill="#141414"/>
<rect x="266" y="727" width="27" height="3" fill="#3a3a3a"/>
<rect x="138" y="732" width="203" height="9" rx="2" fill="#ececf0"/>
<rect x="138" y="735.6" width="203" height="2.4" fill="#1f2d7c"/>
<rect x="140" y="732" width="199" height="1.6" fill="#333"/>
<rect x="255" y="731.6" width="49" height="7" fill="#1a1a1a"/>
<rect x="132" y="739.4" width="216" height="94" rx="7" fill="#f3be74"/>
<rect x="132" y="739.4" width="216" height="94" rx="7" fill="none" stroke="#e0ac5e" stroke-width="1"/>
<rect x="176.4" y="754.2" width="76.2" height="62" rx="2" fill="#0a0a0a"/>
<g font-size="6.4" fill="#fff" font-family="Liberation Sans, sans-serif">
<text x="178" y="762.6" font-style="italic">/Nnyj50x50.nc</text><text x="250.4" y="762.6" text-anchor="end" fill="#e8463a">Run</text>
<text x="178" y="774">Total:</text><text x="250.4" y="774" text-anchor="end">91359</text>
<text x="178" y="782.6">Current:</text><text x="250.4" y="782.6" text-anchor="end">138</text>
<text x="178" y="791">Time:</text><text x="250.4" y="791" text-anchor="end">00:00:25.5</text>
<text x="178" y="799.4">Complete:</text><text x="250.4" y="799.4" text-anchor="end">0.13%</text>
<text x="214.6" y="811" text-anchor="middle">-1.2, -9.2, -0.9</text>
</g>
<rect x="177.4" y="764.6" width="74" height="0.9" fill="#e8463a"/>
<rect x="177.4" y="801.4" width="74" height="0.9" fill="#e8463a"/>
<g fill="#1e8be0" stroke="#1767b4" stroke-width="0.8">
<circle cx="146.4" cy="763.3" r="7.2"/><circle cx="146.4" cy="808.9" r="7.2"/>
<circle cx="307.9" cy="760.9" r="7.2"/><circle cx="282" cy="786.6" r="7.2"/><circle cx="334.3" cy="786.6" r="7.2"/><circle cx="307.9" cy="810.6" r="7.2"/>
</g>
<g fill="#f0452a"><circle cx="307.9" cy="786" r="7.2"/><circle cx="334.3" cy="810.6" r="7.2"/></g>
<g fill="none" stroke="#ffffff" stroke-opacity="0.25" stroke-width="1.4">
<circle cx="146.4" cy="763.3" r="5"/><circle cx="146.4" cy="808.9" r="5"/><circle cx="307.9" cy="760.9" r="5"/><circle cx="282" cy="786.6" r="5"/><circle cx="334.3" cy="786.6" r="5"/><circle cx="307.9" cy="810.6" r="5"/><circle cx="307.9" cy="786" r="5"/><circle cx="334.3" cy="810.6" r="5"/>
</g>
<g fill="#c9c9c9" stroke="#8e8e8e" stroke-width="0.8">
<circle cx="138.4" cy="745.8" r="3.4"/><circle cx="342" cy="746.6" r="3.4"/><circle cx="138.4" cy="826.4" r="3.4"/><circle cx="342" cy="826.4" r="3.4"/>
</g>
</g>
<!-- right controller -->
<g id="ctrlR">
<path d="M693,733 C692,715 691,702 697,696 C706,686 724,686 738,694 C760,707 780,730 796,746 L772,746 C760,732 745,716 732,710 C722,706 714,708 713.4,716 L713.6,733 Z" fill="#a9a9ad"/>
<path d="M693,733 C692,715 691,702 697,696 C706,686 724,686 738,694 C760,707 780,730 796,746" fill="none" stroke="#8c8c92" stroke-width="1"/>
<path d="M693.6,733 C692.6,716 692,706 696,699" fill="none" stroke="#c8405a" stroke-width="1.4"/>
<g fill="none" stroke="#8f8f95" stroke-width="0.7">
<path d="M697,733 C696.4,716 695.6,704 701,698.4 C709,690.6 724,690.6 736,697.4 C757,710 776,731 790,746"/>
<path d="M701.6,733 C701,717 700.4,707 705,701.6 C711,695 723,695 734,701 C753,712 771,732 784,746"/>
<path d="M706,733 C705.6,718 705.4,710 709,705 C713.4,699.6 722.6,700 732,705 C749,714 766,732 778,746"/>
</g>
<rect x="692" y="732.6" width="29" height="17" fill="#151515"/>
<rect x="663" y="744.6" width="178" height="6" fill="#1c1c1e"/>
<rect x="629" y="746.4" width="248.6" height="78.6" rx="4" fill="#4a4e68"/>
<g fill="#f4f4f4"><circle cx="640.6" cy="755.4" r="4.2"/><circle cx="864.8" cy="754.6" r="4.2"/><circle cx="642.6" cy="816.4" r="4.2"/><circle cx="864.8" cy="815.8" r="4.2"/></g>
<!-- side cable -->
<polygon points="849.6,776 849.6,792.8 901,809.6 901,790.4" fill="#3c3c42"/>
<polygon points="877.6,783.6 901,790.4 901,809.6 877.6,802" fill="#a2a2a7"/>
<polygon points="900,790 930,797 932,822 902,815" fill="#1a1a1a"/>
<polygon points="905,794 913,796 914,815 906,813" fill="#77777c"/>
<rect x="649.4" y="750" width="200.4" height="81" rx="3" fill="#e8e8f2"/>
<rect x="649.4" y="750" width="200.4" height="81" rx="3" fill="none" stroke="#d6d6e0" stroke-width="1"/>
<rect x="691" y="766.2" width="67.2" height="52.8" rx="2" fill="#262629"/>
<g fill="#1e86d8">
<circle cx="662" cy="772.5" r="5.9"/><circle cx="663.4" cy="813.5" r="5.9"/><circle cx="814.9" cy="771.2" r="5.9"/><circle cx="793.6" cy="792.8" r="5.9"/><circle cx="836.3" cy="792.8" r="5.9"/><circle cx="814.9" cy="813.6" r="5.9"/>
</g>
<g fill="#f0452a"><circle cx="814.9" cy="792.8" r="5.9"/><circle cx="836.3" cy="813.6" r="5.9"/></g>
<g font-size="4.6" font-weight="700" text-anchor="middle">
<text x="814.2" y="763.4" fill="#333">Y+</text><text x="814.2" y="784.6" fill="#c4301e">SPN</text><text x="814.2" y="803.6" fill="#c4301e">OK</text><text x="814.2" y="824.6" fill="#333">Y-</text>
<text x="836" y="784.6" fill="#333">X+</text><text x="836" y="805.4" fill="#c4301e">Step</text><text x="836" y="825.4" fill="#333">ESC</text>
<text x="792.8" y="784.6" fill="#333">X-</text><text x="671.6" y="774.6" fill="#333">Z+</text><text x="671.6" y="816.2" fill="#333">Z-</text>
</g>
<g fill="#bdbdbd" stroke="#858585" stroke-width="0.7">
<circle cx="652" cy="755" r="2.4"/><circle cx="844" cy="755" r="2.4"/><circle cx="654.6" cy="828" r="2.4"/><circle cx="844" cy="824.8" r="2.4"/>
</g>
</g>
<text x="383.8" y="721.5" font-size="30" fill="#000" stroke="#000" stroke-width="0.4">Random Delivery</text>
<text x="499.7" y="805.2" font-size="36.8" fill="#000" text-anchor="middle" stroke="#000" stroke-width="0.4">or</text>
<polygon points="403.6,795.9 435.1,782 435.1,789.7 469.6,789.7 469.6,802.2 435.1,802.2 435.1,809.6" fill="#050505"/>
<polygon points="597.9,795.9 566,782 566,789.7 526.9,789.7 526.9,802.2 566,802.2 566,809.6" fill="#050505"/>
<text x="393.2" y="914.7" font-size="29.6" font-weight="700" fill="#fff" textLength="217.7" lengthAdjust="spacingAndGlyphs" stroke="#fff" stroke-width="0.4">Offline Control</text>
<text x="180.2" y="947.7" font-size="30" fill="#fff" textLength="642" lengthAdjust="spacingAndGlyphs" stroke="#fff" stroke-width="0.4">Provide Manual Control without Any Computer</text>
</g>
</svg>
</body></html>
